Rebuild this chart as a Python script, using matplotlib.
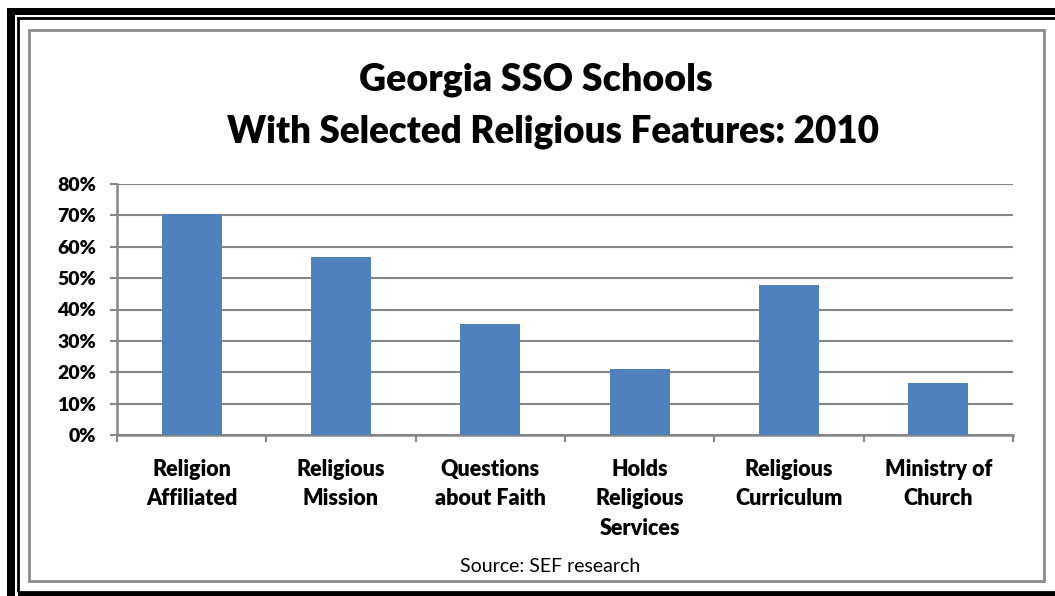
import matplotlib
matplotlib.use("Agg")
import matplotlib.pyplot as plt
from matplotlib.patches import Rectangle
from matplotlib.ticker import FuncFormatter, FixedLocator

plt.rcParams['font.family'] = ['Lato', 'DejaVu Sans']

# data
categories = ["Religion\nAffiliated", "Religious\nMission", "Questions\nabout Faith",
              "Holds\nReligious\nServices", "Religious\nCurriculum", "Ministry of\nChurch"]
shares = [0.703, 0.568, 0.353, 0.211, 0.478, 0.167]
yticks = [0.0, 0.1, 0.2, 0.3, 0.4, 0.5, 0.6, 0.7, 0.8]

W, H = 1055, 596
fig = plt.figure(figsize=(W / 100, H / 100), dpi=100)
ax = fig.add_axes([117 / W, 1 - 435 / H, (1013 - 117) / W, (435 - 184) / H])

grid_c = "#868686"
bold = "heavy"
x = range(len(categories))
ax.bar(x, shares, width=0.40, color="#4F81BD", zorder=3)

ax.set_xlim(-0.5, len(categories) - 0.5)
ax.set_ylim(0, 0.8)
ax.set_yticks(yticks)
ax.yaxis.set_major_formatter(FuncFormatter(lambda v, p: "{:.0f}%".format(v * 100)))
ax.grid(axis="y", color=grid_c, linewidth=1.5, zorder=0)

ax.set_xticks(list(x))
ax.set_xticklabels(categories, fontsize=15.5, fontweight=bold, linespacing=1.5)
ax.tick_params(axis="x", which="major", length=0, pad=17)
ax.xaxis.set_minor_locator(FixedLocator([i - 0.5 for i in range(len(categories) + 1)]))
ax.tick_params(axis="x", which="minor", length=5, width=1.5, color=grid_c, direction="out")
ax.tick_params(axis="y", length=5, width=1.5, color=grid_c, labelsize=14, pad=10)
for lab in ax.get_yticklabels():
    lab.set_fontweight(bold)

for s in ["top", "right"]:
    ax.spines[s].set_visible(False)
for s in ["left", "bottom"]:
    ax.spines[s].set_color(grid_c)
    ax.spines[s].set_linewidth(1.8)

fig.text(536 / W, 1 - 80 / H, "Georgia SSO Schools", ha="center", va="center",
         fontsize=27, fontweight=bold)
fig.text(553 / W, 1 - 132 / H, "With Selected Religious Features: 2010", ha="center", va="center",
         fontsize=26.5, fontweight=bold)
fig.text(550 / W, 1 - 567 / H, "Source: SEF research", ha="center", va="center", fontsize=14)


def px_rect(x0, y0, x1, y1, **kw):
    r = Rectangle((x0 / W, 1 - y1 / H), (x1 - x0) / W, (y1 - y0) / H,
                  transform=fig.transFigure, **kw)
    fig.add_artist(r)


# frame: thick black band, thin black line, gray inner border
px_rect(7, 8, 1100, 15, facecolor="black", edgecolor="none")
px_rect(7, 8, 15, 700, facecolor="black", edgecolor="none")
px_rect(18, 18, 1100, 592, facecolor="none", edgecolor="black", linewidth=2)
px_rect(18, 592, 1100, 700, facecolor="black", edgecolor="none")
px_rect(29, 30, 1044, 581, facecolor="none", edgecolor="#8c8c8c", linewidth=2)

fig.savefig("out.png", dpi=100)
